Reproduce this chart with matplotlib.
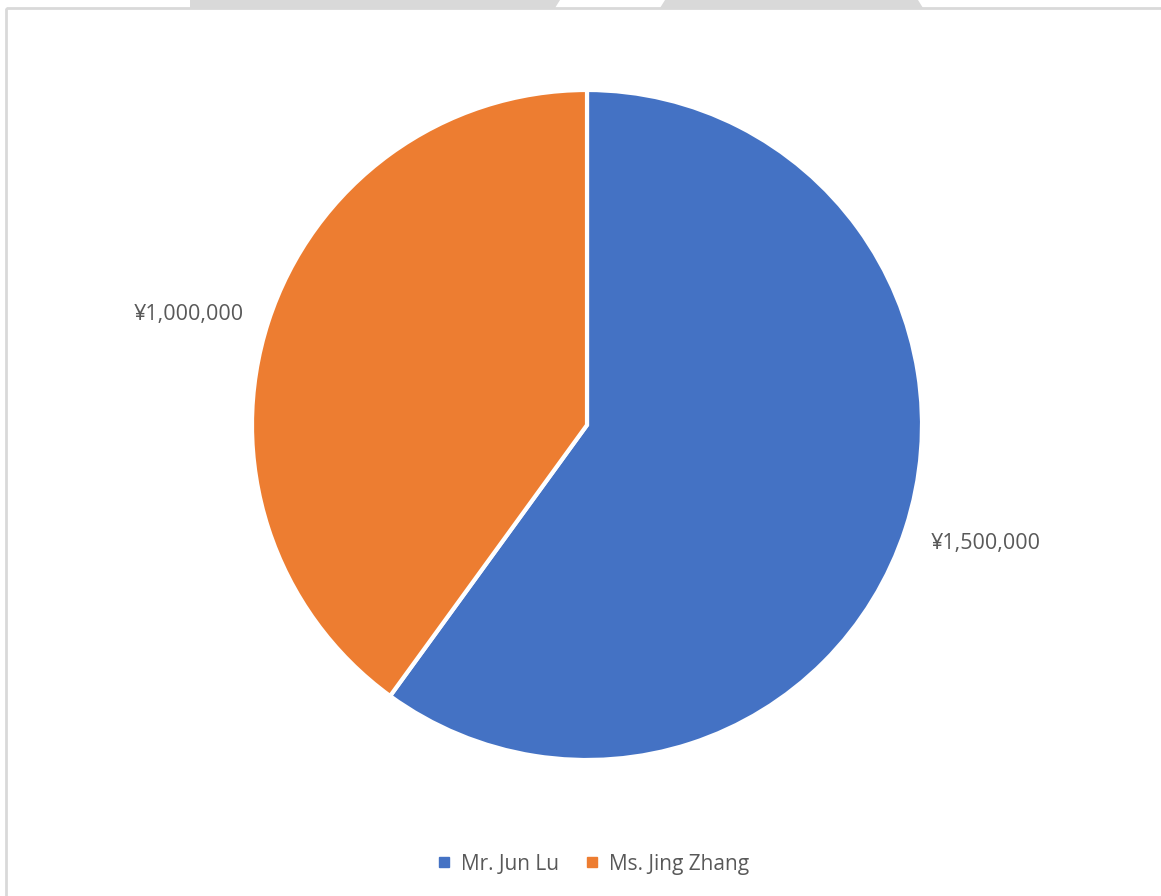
import numpy as np
import matplotlib.pyplot as plt
from matplotlib.patches import Polygon, Rectangle
from matplotlib.lines import Line2D

# Datos
nombres = ['Mr. Jun Lu', 'Ms. Jing Zhang']
montos = [1500000, 1000000]
etiquetas = ['¥{:,}'.format(m) for m in montos]
colores = ['#4472C4', '#ED7D31']

plt.rcParams['font.family'] = ['Open Sans', 'DejaVu Sans']

fig = plt.figure(figsize=(11.61, 8.96), dpi=100)

# Fondo: banda gris superior y marco del gráfico (en píxeles)
bg = fig.add_axes([0, 0, 1, 1])
bg.set_xlim(0, 1161)
bg.set_ylim(896, 0)
bg.axis('off')
gris = '#d9d9d9'
bg.add_patch(Polygon([(190, 0), (560, 0), (555, 8), (190, 8)], closed=True, color=gris, lw=0))
bg.add_patch(Polygon([(665, 0), (918, 0), (923, 8), (660, 8)], closed=True, color=gris, lw=0))
bg.add_patch(Rectangle((5.5, 8.5), 1200, 1000, fill=False, ec=gris, lw=2))

# Pastel
ax = fig.add_axes([252 / 1161, 136 / 896, 670 / 1161, 670 / 896])
wedges, textos = ax.pie(montos, labels=etiquetas, colors=colores, startangle=90,
                        counterclock=False,
                        wedgeprops=dict(edgecolor='white', linewidth=3),
                        textprops=dict(fontsize=15.5, color='#595959'))
# Etiquetas fuera del pastel, centradas
for w, t in zip(wedges, textos):
    ang = np.deg2rad((w.theta1 + w.theta2) / 2)
    t.set_position((1.25 * np.cos(ang), 1.11 * np.sin(ang) - 0.012))
    t.set_ha('center')
    t.set_va('center')
ax.set_xlim(-1, 1)
ax.set_ylim(-1, 1)

# Leyenda
manijas = [Line2D([], [], marker='s', ls='', color=c, markersize=7) for c in colores]
fig.legend(manijas, nombres, loc='center', bbox_to_anchor=(0.511, 1 - 864 / 896),
           ncol=2, frameon=False, fontsize=15, labelcolor='#595959',
           handlelength=0.6, handletextpad=0.5, columnspacing=1.3)

plt.savefig('out.png')
plt.close()
